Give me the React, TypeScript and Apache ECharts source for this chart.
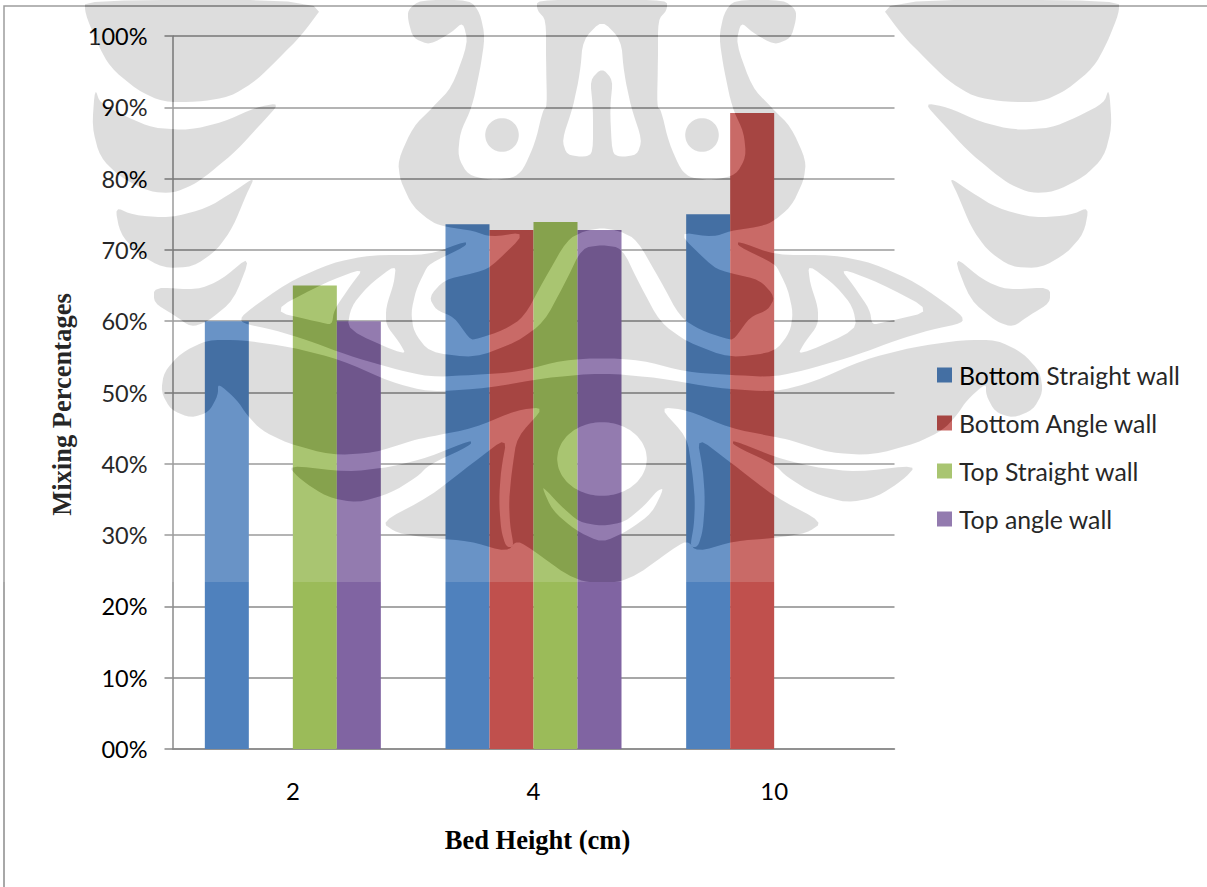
import React, { useEffect, useRef } from "react";
import * as echarts from "echarts";

const categories = ["2", "4", "10"];
const bottomStraightWall = [60, 73.6, 75];
const bottomAngleWall = [null, 72.8, 89.2];
const topStraightWall = [65, 73.9, null];
const topAngleWall = [60, 72.8, null];

const seriesNames = ["Bottom Straight wall", "Bottom Angle wall", "Top Straight wall", "Top angle wall"];
const seriesColors = ["#4F81BD", "#C0504D", "#9BBB59", "#8064A2"];

type Pt = [number, number];

// The crest printed faintly over the upper part of the page is symmetric about this x.
const AXIS_X = 602;
const VEIL_BOTTOM = 582;
const mirror = ([x, y]: Pt): Pt => [2 * AXIS_X - x, y];
const both = (half: Pt[]): Pt[] => [...half, ...half.slice(1, -1).reverse().map(mirror)];

const ellipse = (cx: number, cy: number, rx: number, ry: number, n = 28): Pt[] => {
  const pts: Pt[] = [];
  for (let i = 0; i < n; i++) {
    const a = (i / n) * Math.PI * 2;
    pts.push([cx + rx * Math.cos(a), cy + ry * Math.sin(a)]);
  }
  return pts;
};

// Column, hooks, eyes and shoulders
const crestHead: Pt[] = both([
  [602, 228], [620, 231], [637, 240], [660, 280], [680, 317], [700, 330], [730, 340], [735, 338],
  [750, 317], [768, 310], [775, 297], [760, 280], [730, 273], [714, 268], [677, 232], [714, 237],
  [730, 231], [757, 227], [771, 223], [791, 207], [804, 180], [806, 160], [791, 127], [771, 107],
  [752, 87], [736, 43], [741, 22], [752, 32], [774, 45], [791, 38], [796, 20], [796, 10], [784, 0],
  [734, 0], [724, 13], [719, 37], [724, 70], [732, 107], [744, 133], [746, 157], [736, 175],
  [714, 180], [691, 178], [681, 170], [669, 143], [661, 110], [657, 107], [658, 60], [658, 20],
  [667, 10], [667, 0], [602, 0],
]);

// Chest with both wings
const crestWings: Pt[] = both([
  [602, 245], [622, 248], [640, 285], [660, 322], [687, 342], [730, 358], [775, 352], [790, 332],
  [793, 313], [788, 290], [780, 273], [775, 264], [738, 246], [738, 241], [775, 255], [833, 255],
  [873, 263], [917, 283], [962, 315], [963, 323], [930, 330], [897, 340], [857, 355], [813, 368],
  [775, 377], [730, 375], [687, 372], [640, 360], [602, 358],
]);

// Lower body with the side lobes; the slim arcs beside the central circle open from the white band
const crestBody: Pt[] = both([
  [602, 373], [660, 378], [715, 388], [775, 392], [813, 382], [863, 360], [913, 347], [963, 340],
  [997, 340], [1023, 353], [1040, 372], [1043, 392], [1033, 410], [1013, 418], [995, 412],
  [986, 395], [986, 383], [967, 400], [957, 415], [943, 430], [917, 443], [873, 455], [830, 453],
  [790, 440], [775, 437], [730, 428], [687, 410], [659, 407], [687, 437], [692, 470], [695, 500],
  [694, 525], [690, 547], [698, 547], [703, 530], [705, 500], [703, 470], [697, 437], [730, 462],
  [775, 497], [823, 522], [807, 533], [775, 538], [735, 541], [697, 552], [687, 540], [667, 553],
  [640, 573], [620, 582], [602, 582],
]);

const sideShapes: Pt[][] = [
  // Tail feathers, top to bottom
  [[85, 0], [328, 0], [300, 37], [280, 57], [257, 80], [230, 97], [197, 102], [163, 102], [137, 90], [110, 67], [97, 43], [85, 13]],
  [[95, 88], [100, 103], [127, 117], [153, 128], [190, 130], [223, 122], [257, 107], [280, 103], [260, 125], [237, 150], [210, 173], [193, 185], [173, 193], [150, 192], [120, 177], [100, 157], [92, 127]],
  [[115, 207], [133, 215], [170, 218], [207, 208], [233, 192], [255, 177], [247, 193], [233, 227], [217, 250], [193, 267], [163, 268], [137, 253], [120, 233]],
  [[251, 255], [221, 280], [197, 290], [154, 287], [154, 303], [174, 315], [191, 327], [207, 322], [234, 300]],
  // Small petal under the lobes
  [[733, 440], [775, 457], [813, 467], [857, 472], [917, 465], [903, 480], [877, 497], [847, 503], [813, 493], [787, 477], [775, 465], [733, 445]],
  // Eye pupil
  ellipse(702, 135, 17, 17, 20),
];

const wingGaps: Pt[][] = [
  [[808, 264], [837, 287], [853, 307], [857, 330], [797, 356], [805, 342], [818, 325], [818, 307], [810, 283]],
  [[840, 268], [880, 283], [933, 311], [885, 322], [872, 325], [870, 310], [853, 285]],
];

const centreGaps: Pt[][] = [
  // Arch with the tower rising inside it
  [
    [602, 20], [621, 40], [624, 73], [631, 107], [642, 140], [637, 155], [620, 157], [612, 153], [610, 107], [613, 80],
    [602, 68], [590, 80], [593, 107], [593, 153], [585, 157], [567, 155], [562, 140], [573, 107], [580, 73], [583, 40],
  ],
  ellipse(602, 459, 45, 37),
  // Crescent under the circle
  [[542, 487], [552, 510], [575, 530], [602, 543], [629, 530], [652, 513], [664, 488], [657, 491], [645, 505], [625, 522], [602, 526], [579, 522], [560, 505], [547, 491]],
];

const smooth = (pts: Pt[], rounds = 2): Pt[] => {
  let out = pts;
  for (let r = 0; r < rounds; r++) {
    const next: Pt[] = [];
    out.forEach((p, i) => {
      const q = out[(i + 1) % out.length];
      next.push([p[0] * 0.8 + q[0] * 0.2, p[1] * 0.8 + q[1] * 0.2]);
      next.push([p[0] * 0.2 + q[0] * 0.8, p[1] * 0.2 + q[1] * 0.8]);
    });
    out = next;
  }
  return out;
};

const signedArea = (pts: Pt[]) =>
  pts.reduce((sum, p, i) => {
    const q = pts[(i + 1) % pts.length];
    return sum + p[0] * q[1] - q[0] * p[1];
  }, 0);

const subPath = (raw: Pt[], positive: boolean, round = true) => {
  const pts = round ? smooth(raw) : raw;
  const ordered = signedArea(pts) > 0 === positive ? pts : [...pts].reverse();
  return "M" + ordered.map((p) => `${p[0].toFixed(1)} ${p[1].toFixed(1)}`).join("L") + "Z";
};

const solids: Pt[][] = [
  crestHead,
  crestWings,
  crestBody,
  ...sideShapes,
  ...sideShapes.map((s) => s.map(mirror)),
];
const gaps: Pt[][] = [...wingGaps, ...wingGaps.map((s) => s.map(mirror)), ...centreGaps];

const crestPath =
  solids.map((s) => subPath(s, true)).join("") + gaps.map((s) => subPath(s, false)).join("");
const veilOuter: Pt[] = [[0, 0], [1207, 0], [1207, VEIL_BOTTOM], [0, VEIL_BOTTOM]];

echarts.graphic.registerShape("crest", echarts.graphic.extendPath(crestPath, {}));
echarts.graphic.registerShape("crestVeil", echarts.graphic.extendPath(subPath(veilOuter, false, false) + crestPath, {}));

const LABEL_FONT = "Lato";
const TITLE_FONT = "Liberation Serif";
const LINE_COLOR = "#8a8a8a";

export default function App() {
  const ref = useRef<HTMLDivElement>(null);

  useEffect(() => {
    const chart = echarts.init(ref.current!, undefined, { renderer: "svg" });
    const values = [bottomStraightWall, bottomAngleWall, topStraightWall, topAngleWall];
    chart.setOption({
      animation: false,
      backgroundColor: "#ffffff",
      grid: { left: 172.5, top: 36, width: 722, height: 713, containLabel: false },
      legend: {
        orient: "vertical",
        left: 937,
        top: 361,
        padding: 0,
        itemWidth: 15,
        itemHeight: 15,
        itemGap: 20,
        icon: "rect",
        data: seriesNames,
        textStyle: { fontFamily: LABEL_FONT, fontSize: 24.8, color: "#000000", lineHeight: 28, padding: [0, 0, 0, 2] },
      },
      xAxis: {
        type: "category",
        data: categories,
        name: "Bed Height (cm)",
        nameLocation: "middle",
        nameGap: 77,
        nameTextStyle: { fontFamily: TITLE_FONT, fontWeight: "bold", fontSize: 26.5, color: "#000000", padding: [0, 0, 0, 8] },
        axisLine: { lineStyle: { color: LINE_COLOR, width: 1.5 } },
        axisTick: { length: 8, lineStyle: { color: LINE_COLOR, width: 1.5 } },
        axisLabel: { fontFamily: LABEL_FONT, fontSize: 24, color: "#000000", margin: 29 },
      },
      yAxis: {
        type: "value",
        min: 0,
        max: 100,
        interval: 10,
        name: "Mixing Percentages",
        nameLocation: "middle",
        nameGap: 97,
        nameRotate: 90,
        nameTextStyle: { fontFamily: TITLE_FONT, fontWeight: "bold", fontSize: 26.5, color: "#000000", padding: [0, 24, 0, 0] },
        axisLine: { show: true, lineStyle: { color: LINE_COLOR, width: 1.5 } },
        axisTick: { show: true, length: 8, lineStyle: { color: LINE_COLOR, width: 1.5 } },
        splitLine: { show: true, lineStyle: { color: LINE_COLOR, width: 1.5 } },
        axisLabel: {
          fontFamily: LABEL_FONT,
          fontSize: 23.5,
          color: "#000000",
          margin: 25,
          formatter: (v: number) => (v === 0 ? "00%" : `${v}%`),
        },
      },
      series: seriesNames.map((name, i) => ({
        name,
        type: "bar",
        data: values[i],
        barWidth: 44,
        barGap: 0,
        itemStyle: { color: seriesColors[i] },
      })),
      graphic: {
        elements: [
          {
            type: "polyline",
            silent: true,
            z: 1,
            shape: { points: [[4, 887], [4, 6], [1207, 6]] },
            style: { stroke: "#8c8c8c", lineWidth: 1.5, fill: "none" },
          },
          { type: "crestVeil", x: 0, y: 0, silent: true, z: 100, style: { fill: "rgba(255,255,255,0.15)" } },
          { type: "crest", x: 0, y: 0, silent: true, z: 100, style: { fill: "rgba(0,0,0,0.135)" } },
        ],
      },
    });
    return () => chart.dispose();
  }, []);

  return <div ref={ref} style={{ position: "fixed", left: 0, top: 0, width: 1207, height: 887 }} />;
}
